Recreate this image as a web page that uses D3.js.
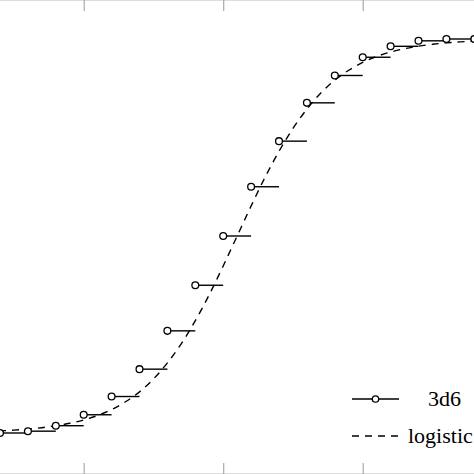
<!DOCTYPE html><html><head><meta charset="utf-8">
<script src="https://cdn.jsdelivr.net/npm/d3@7"></script>
<style>body{margin:0;background:#fff}svg{display:block}</style></head><body>
<script>
const sums = [2,3,4,5,6,7,8,9,10,11,12,13,14,15,16,17,18,19];
const counts = [0,1,4,10,20,35,56,81,108,135,160,181,196,206,212,215,216,216];
const logX = [1.5,2,2.5,3,3.5,4,4.5,5,5.5,6,6.5,7,7.5,8,8.5,9,9.5,10,10.5,11,11.5,12,12.5,13,13.5,14,14.5,15,15.5,16,16.5,17,17.5,18,18.5,19,19.5];
const logY = [0.0040,0.0054,0.0073,0.0099,0.0135,0.0182,0.0246,0.0332,0.0444,0.0595,0.0793,0.1044,0.137,0.178,0.227,0.285,0.351,0.424,0.5,0.576,0.649,0.715,0.773,0.822,0.863,0.8956,0.9207,0.9405,0.9556,0.9668,0.9754,0.9818,0.9865,0.9901,0.9927,0.9946,0.996];
const xTicks = [5,10,15];

const W=474,H=474;
const svg=d3.select("body").append("svg").attr("width",W).attr("height",H);
const x=d3.scaleLinear().domain([2,7]).range([0,139.5]);
const y=d3.scaleLinear().domain([0,1]).range([433,39]);
const g=svg.append("g");
g.append("line").attr("x1",0).attr("x2",W).attr("y1",0.5).attr("y2",0.5).attr("stroke","#ddd");
g.append("line").attr("x1",0).attr("x2",W).attr("y1",H-0.5).attr("y2",H-0.5).attr("stroke","#ddd");
const topAx=g.append("g").attr("transform","translate(0,0)").call(d3.axisBottom(x).tickValues(xTicks).tickSize(11).tickFormat(""));
const botAx=g.append("g").attr("transform",`translate(0,${H})`).call(d3.axisTop(x).tickValues(xTicks).tickSize(11).tickFormat(""));
[topAx,botAx].forEach(a=>{a.select(".domain").remove();a.selectAll("line").attr("stroke","#aaa").attr("stroke-width",1.2);});

g.append("path").datum(logX.map((v,i)=>[v,logY[i]]))
 .attr("d",d3.line().x(d=>x(d[0])).y(d=>y(d[1])).curve(d3.curveMonotoneX))
 .attr("fill","none").attr("stroke","#000").attr("stroke-width",1.4).attr("stroke-dasharray","7,6");
const pts=sums.map((s,i)=>[s,counts[i]/216]);
g.selectAll(".st").data(pts).enter().append("line")
 .attr("x1",d=>x(d[0])).attr("x2",d=>x(d[0]+1)).attr("y1",d=>y(d[1])).attr("y2",d=>y(d[1]))
 .attr("stroke","#000").attr("stroke-width",1.4);
g.selectAll("circle.p").data(pts).enter().append("circle")
 .attr("cx",d=>x(d[0])).attr("cy",d=>y(d[1])).attr("r",3.4)
 .attr("fill","#fff").attr("stroke","#000").attr("stroke-width",1.3);

const lg=svg.append("g");
lg.append("line").attr("x1",352).attr("x2",399).attr("y1",399).attr("y2",399).attr("stroke","#000").attr("stroke-width",1.4);
lg.append("circle").attr("cx",375.5).attr("cy",399).attr("r",3.2).attr("fill","#fff").attr("stroke","#000").attr("stroke-width",1.3);
lg.append("line").attr("x1",352).attr("x2",399).attr("y1",436).attr("y2",436).attr("stroke","#000").attr("stroke-width",1.4).attr("stroke-dasharray","7,6");
lg.append("text").attr("x",428).attr("y",406).text("3d6").attr("font-family","Liberation Serif").attr("font-size",22);
lg.append("text").attr("x",408).attr("y",443).text("logistic").attr("font-family","Liberation Serif").attr("font-size",22);
</script></body></html>
